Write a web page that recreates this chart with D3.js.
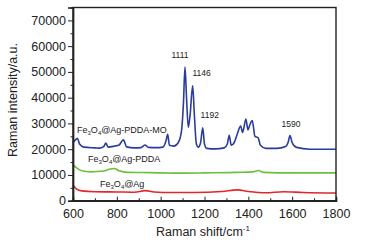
<!DOCTYPE html>
<html>
<head>
<meta charset="utf-8">
<script src="https://cdn.jsdelivr.net/npm/d3@7"></script>
<style>
  body { margin: 0; background: #fff; }
  svg { display: block; font-family: "Liberation Sans", Arial, sans-serif; }
</style>
</head>
<body>
<div id="chart"></div>
<script>
// wavenumbers (cm-1) and intensities
var moShift = [600, 610, 620, 630, 650, 700, 720, 740, 750, 760, 790, 810, 830, 845, 880, 910, 928, 945, 980, 1010,
  1025, 1032, 1040, 1060, 1080, 1095, 1104, 1111, 1118, 1126, 1134, 1146, 1154, 1163, 1172, 1182, 1192, 1200, 1210,
  1250, 1290, 1304, 1313, 1322, 1335, 1350, 1365, 1374, 1389, 1398, 1405, 1418, 1430, 1445, 1455, 1480, 1530, 1570,
  1582, 1590, 1600, 1620, 1680, 1750, 1800];
var moValue = [22500, 23500, 24200, 22000, 20800, 20500, 20400, 21000, 22400, 20800, 21200, 21600, 23600, 20900, 20500, 20600, 21600, 20700, 20600, 20800,
  23500, 25800, 21500, 21200, 22500, 27000, 38000, 51900, 40000, 28500, 33000, 44600, 33000, 22000, 20800, 22500, 28300, 22000, 20300,
  20100, 20500, 22000, 25400, 21500, 22500, 26000, 29000, 26500, 31700, 27500, 29000, 31100, 25000, 24400, 21500, 20300, 20300, 21000,
  22800, 25300, 22500, 20700, 20000, 20000, 20000];

var pddaShift = [600, 615, 640, 680, 740, 770, 790, 810, 850, 950, 1100, 1200, 1350, 1420, 1445, 1470, 1600, 1800];
var pddaValue = [14000, 12800, 11600, 11200, 11500, 12300, 12500, 11600, 11000, 10900, 10700, 10800, 11000, 11200, 11700, 11000, 10800, 10800];

var agShift = [600, 615, 640, 700, 800, 880, 930, 970, 1050, 1150, 1280, 1350, 1400, 1480, 1560, 1650, 1800];
var agValue = [6000, 4600, 3800, 3500, 3400, 3300, 3900, 3400, 3200, 3200, 3600, 4200, 3600, 3100, 3500, 3200, 3000];

var peakShift = [1111, 1146, 1192, 1590];
var peakValue = [55500, 48400, 32000, 28700];

var xTicks = [600, 800, 1000, 1200, 1400, 1600, 1800];
var yTicks = [0, 10000, 20000, 30000, 40000, 50000, 60000, 70000];

var width = 368, height = 244;
var margin = { top: 7.5, right: 32, bottom: 43.3, left: 73 };

var svg = d3.select("#chart").append("svg")
    .attr("width", width)
    .attr("height", height);

var x = d3.scaleLinear().domain([600, 1800]).range([margin.left, width - margin.right]);
var y = d3.scaleLinear().domain([0, 75000]).range([height - margin.bottom, margin.top]);

function series(xs, vs) {
  return xs.map(function(d, i) { return [d, vs[i]]; });
}

var line = d3.line()
    .x(function(d) { return x(d[0]); })
    .y(function(d) { return y(d[1]); })
    .curve(d3.curveMonotoneX);

var lines = [
  { data: series(agShift, agValue), color: "#e3262b" },
  { data: series(pddaShift, pddaValue), color: "#6cbf3f" },
  { data: series(moShift, moValue), color: "#2a3c9c" }
];

svg.append("g").selectAll("path")
  .data(lines)
  .enter().append("path")
    .attr("d", function(d) { return line(d.data); })
    .attr("fill", "none")
    .attr("stroke", function(d) { return d.color; })
    .attr("stroke-width", 1.6);

// frame
svg.append("rect")
    .attr("x", x(600)).attr("y", y(75000))
    .attr("width", x(1800) - x(600))
    .attr("height", y(0) - y(75000))
    .attr("fill", "none")
    .attr("stroke", "#222")
    .attr("stroke-width", 1.4);

// x axis, ticks pointing inwards
var xAxis = svg.append("g")
    .attr("transform", "translate(0," + y(0) + ")")
    .call(d3.axisBottom(x).tickValues(xTicks).tickSize(-4).tickPadding(8).tickFormat(d3.format("d")));
svg.append("g")
    .attr("transform", "translate(0," + y(0) + ")")
    .call(d3.axisBottom(x).tickValues(d3.range(700, 1800, 200)).tickSize(-2.5).tickFormat(""));

// y axis
var yAxis = svg.append("g")
    .attr("transform", "translate(" + x(600) + ",0)")
    .call(d3.axisLeft(y).tickValues(yTicks).tickSize(5).tickPadding(2).tickFormat(d3.format("d")));
svg.append("g")
    .attr("transform", "translate(" + x(600) + ",0)")
    .call(d3.axisLeft(y).tickValues(d3.range(5000, 75000, 10000)).tickSize(2.5).tickFormat(""));

svg.selectAll(".domain").attr("stroke", "#222").attr("stroke-width", 1.4);
svg.selectAll(".tick line").attr("stroke", "#222").attr("stroke-width", 1);
svg.selectAll(".tick text").attr("font-size", 12.5).attr("fill", "#222")
    .attr("font-family", "'Liberation Sans', Arial, sans-serif");

// peak labels
svg.append("g").selectAll("text")
  .data(peakShift)
  .enter().append("text")
    .attr("x", function(d, i) { return x(d) + (i == 0 ? -5 : i == 1 ? 9 : i == 2 ? 7 : 1); })
    .attr("y", function(d, i) { return y(peakValue[i]); })
    .attr("text-anchor", "middle")
    .attr("font-size", 8.5)
    .attr("fill", "#222")
    .text(function(d) { return d; });

// series labels with subscripts
var sampleLabels = [
  { x: 77, y: 132.5, rest: "@Ag-PDDA-MO" },
  { x: 88, y: 162, rest: "@Ag-PDDA" },
  { x: 100, y: 186.5, rest: "@Ag" }
];
sampleLabels.forEach(function(l) {
  var t = svg.append("text")
      .attr("x", l.x).attr("y", l.y)
      .attr("font-size", 9)
      .attr("fill", "#222");
  t.append("tspan").text("Fe");
  t.append("tspan").attr("font-size", 6).attr("dy", 2).text("3");
  t.append("tspan").attr("dy", -2).text("O");
  t.append("tspan").attr("font-size", 6).attr("dy", 2).text("4");
  t.append("tspan").attr("dy", -2).text(l.rest);
});

// axis titles
var xt = svg.append("text")
    .attr("x", 203).attr("y", 236)
    .attr("text-anchor", "middle")
    .attr("font-size", 12.5)
    .attr("fill", "#222");
xt.append("tspan").text("Raman shift/cm");
xt.append("tspan").attr("font-size", 8).attr("dy", -5).text("-1");

svg.append("text")
    .attr("transform", "translate(17,100) rotate(-90)")
    .attr("text-anchor", "middle")
    .attr("font-size", 12.5)
    .attr("fill", "#222")
    .text("Raman intensity/a.u.");
</script>
</body>
</html>
